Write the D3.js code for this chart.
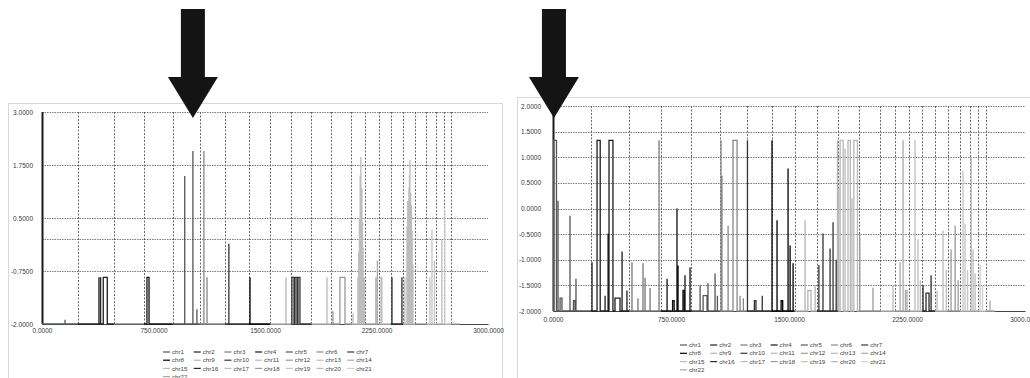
<!DOCTYPE html>
<html>
<head>
<meta charset="utf-8">
<script src="https://cdn.jsdelivr.net/npm/d3@7"></script>
<style>
  body { margin: 0; background: #fff; }
  svg { display: block; font-family: "Liberation Sans", Arial, sans-serif; }
</style>
</head>
<body>
<div id="chart"></div>
<script>
// chromosome names and where each one starts on the genome axis
const chromosomes = d3.range(1, 23).map(i => 'chr' + i);
const chrStarts = [0, 242, 484, 686, 880, 1060, 1232, 1390, 1535, 1678, 1812,
  1945, 2080, 2174, 2265, 2347, 2428, 2510, 2586, 2650, 2703, 2752];
const dataEnd = 2810;
const baseline = -2;

const xTicks = [0, 750, 1500, 2250, 3000];
const leftYTicks = [3, 1.75, 0.5, -0.75, -2];
const leftExtraGrid = [0];
const rightYTicks = [2, 1.5, 1, 0.5, 0, -0.5, -1, -1.5, -2];

// [chr, start, end, value]  (start == end for a single spike)
const leftSpikes = [
  [1, 155, 155, -1.9],
  [2, 383, 383, -0.9], [2, 394, 394, -0.9], [2, 412, 439, -0.9],
  [4, 706, 720, -0.9],
  [5, 960, 960, 1.49], [5, 1015, 1015, 2.08], [5, 1042, 1042, -1.65],
  [6, 1089, 1089, 2.08], [6, 1110, 1110, -0.9],
  [7, 1257, 1257, -0.11],
  [8, 1399, 1399, -0.9],
  [9, 1641, 1641, -0.9],
  [10, 1681, 1695, -0.9], [10, 1702, 1715, -0.9], [10, 1722, 1735, -0.9],
  [11, 1917, 1917, -0.9],
  [12, 1957, 1957, -1.7], [12, 2004, 2038, -0.9],
  [13, 2092, 2092, -1.75], [13, 2125, 2125, -0.9], [13, 2130, 2130, -0.3], [13, 2135, 2135, 0.5],
  [13, 2140, 2140, 1.5], [13, 2145, 2145, 1.94], [13, 2148, 2148, 0.9], [13, 2152, 2152, 1.2],
  [13, 2156, 2156, 0.4], [13, 2160, 2160, -0.2], [13, 2168, 2168, -0.9],
  [14, 2246, 2246, -0.9], [14, 2256, 2256, -0.5],
  [15, 2280, 2286, -0.9],
  [16, 2354, 2354, -0.9], [16, 2421, 2421, -0.9],
  [17, 2441, 2441, -0.9], [17, 2455, 2455, 0.3], [17, 2460, 2460, 0.9], [17, 2468, 2468, 1.2],
  [17, 2472, 2472, 1.5], [17, 2475, 2475, 1.87], [17, 2480, 2480, 1.1], [17, 2485, 2485, 0.8],
  [17, 2490, 2490, 0.2], [17, 2495, 2495, -0.6],
  [19, 2609, 2609, -0.9], [19, 2623, 2623, 0.22], [19, 2640, 2640, -0.5],
  [20, 2690, 2690, 0.0],
  [21, 2710, 2710, 0.69]
];

const rightSpikes = [
  [1, 4, 22, 1.33], [1, 32, 32, 0.15], [1, 45, 57, -1.75], [1, 108, 108, -0.14],
  [1, 130, 140, -1.8], [1, 146, 146, -1.37],
  [2, 248, 248, -1.05], [2, 280, 300, 1.33], [2, 331, 331, -1.7], [2, 350, 350, -0.49],
  [2, 356, 381, 1.33], [2, 394, 426, -1.75], [2, 439, 439, -0.84], [2, 470, 470, -1.6],
  [3, 502, 502, -1.05], [3, 540, 540, -1.75], [3, 572, 572, -1.07], [3, 585, 585, -1.35],
  [3, 617, 617, -1.55], [3, 674, 674, 1.33],
  [4, 725, 725, -1.37], [4, 760, 770, -1.8], [4, 788, 788, 0.0], [4, 795, 795, -1.11],
  [4, 826, 835, -1.6], [4, 839, 839, -1.3], [4, 871, 871, -1.15],
  [5, 935, 935, -1.5], [5, 954, 979, -1.7], [5, 985, 985, -1.46], [5, 1030, 1030, -1.27],
  [5, 1045, 1045, -1.7],
  [6, 1068, 1068, 1.33], [6, 1074, 1074, 0.64], [6, 1113, 1113, -0.33], [6, 1144, 1170, 1.33],
  [6, 1189, 1189, -1.7], [6, 1210, 1210, -1.75],
  [7, 1236, 1236, 1.33], [7, 1280, 1290, -1.8], [7, 1330, 1330, -1.7],
  [8, 1392, 1392, 1.33], [8, 1424, 1424, -0.23], [8, 1450, 1460, -1.8], [8, 1494, 1494, 0.78],
  [8, 1507, 1507, -0.72], [8, 1526, 1526, -1.07],
  [9, 1602, 1602, -0.23], [9, 1620, 1640, -1.6], [9, 1666, 1666, -1.5],
  [10, 1690, 1690, -1.1], [10, 1716, 1716, -0.49], [10, 1761, 1761, -0.78],
  [10, 1780, 1780, -0.27], [10, 1800, 1800, -1.0],
  [11, 1808, 1808, 1.33], [11, 1815, 1815, 0.4], [11, 1825, 1844, 1.33], [11, 1856, 1856, 1.17],
  [11, 1875, 1890, 1.33], [11, 1900, 1900, 0.2], [11, 1912, 1935, 1.33],
  [12, 1950, 1950, -0.5], [12, 2034, 2034, -1.55],
  [13, 2161, 2161, -1.5],
  [14, 2206, 2206, -1.05], [14, 2225, 2225, 1.33], [14, 2240, 2250, -1.6],
  [15, 2301, 2301, 1.33], [15, 2320, 2320, -0.6], [15, 2335, 2335, -1.4],
  [16, 2352, 2352, -1.5], [16, 2371, 2390, -1.65], [16, 2403, 2403, -1.3],
  [17, 2441, 2441, -1.6], [17, 2479, 2479, -0.43], [17, 2500, 2500, -1.2],
  [18, 2530, 2530, -0.8], [18, 2556, 2556, -0.33], [18, 2575, 2575, -1.4],
  [19, 2606, 2606, 0.74], [19, 2619, 2619, -0.3], [19, 2635, 2635, -1.2],
  [20, 2658, 2658, 1.0], [20, 2670, 2670, -0.8], [20, 2683, 2683, -1.27],
  [21, 2715, 2715, -1.1], [21, 2730, 2730, -1.5],
  [22, 2778, 2778, -1.8]
];

// grey shades the scanned Excel print gives each series
const chrColors = ['#555', '#1e1e1e', '#777', '#111', '#555', '#888', '#333', '#000',
  '#b4b4b4', '#333', '#b8b8b8', '#999', '#bdbdbd', '#aaa', '#bdbdbd', '#2a2a2a',
  '#bcbcbc', '#999', '#c4c4c4', '#bbb', '#cfcfcf', '#aaa'];

const arrowTargets = { left: 1015, right: 6 };

const W = 1030, H = 378;
const svg = d3.select('#chart').append('svg')
  .attr('width', W)
  .attr('height', H);

svg.append('rect').attr('width', W).attr('height', H).attr('fill', '#fff');

const fmt = v => v.toFixed(4);

function seriesPoints(spikes, chrIdx) {
  const start = chrStarts[chrIdx];
  const end = chrIdx < chrStarts.length - 1 ? chrStarts[chrIdx + 1] : dataEnd;
  const pts = [[start, baseline]];
  spikes.filter(d => d[0] === chrIdx + 1)
    .sort((a, b) => a[1] - b[1])
    .forEach(([c, a, b, v]) => {
      pts.push([a, baseline], [a, v]);
      if (b !== a) pts.push([b, v]);
      pts.push([b, baseline]);
    });
  pts.push([end, baseline]);
  return pts;
}

function drawPanel(p) {
  // outer chart frame
  svg.append('rect')
    .attr('x', p.frame[0] + 0.5).attr('y', p.frame[1] + 0.5)
    .attr('width', p.frame[2]).attr('height', p.frame[3])
    .attr('fill', 'none')
    .attr('stroke', '#b0b0b0')
    .attr('stroke-dasharray', '1,1');

  const x = d3.scaleLinear().domain([0, 3000]).range([p.left, p.right]);
  const y = d3.scaleLinear().domain(p.yDomain).range([p.bottom, p.top]);
  const g = svg.append('g');

  // horizontal gridlines
  g.append('g')
    .selectAll('line')
    .data(p.yTicks.concat(p.extraGrid || []))
    .enter()
    .append('line')
    .attr('x1', p.left).attr('x2', p.right)
    .attr('y1', d => Math.round(y(d)) + 0.5).attr('y2', d => Math.round(y(d)) + 0.5)
    .attr('stroke', '#6a6a6a')
    .attr('stroke-width', 0.9)
    .attr('stroke-dasharray', '1.5,1');

  // chromosome boundary markers
  g.append('g')
    .selectAll('line')
    .data(chrStarts)
    .enter()
    .append('line')
    .attr('x1', d => Math.round(x(d)) + 0.5).attr('x2', d => Math.round(x(d)) + 0.5)
    .attr('y1', y(p.yDomain[0])).attr('y2', y(p.yDomain[1]))
    .attr('stroke', (d, i) => i === 0 ? '#1a1a1a' : '#5a5a5a')
    .attr('stroke-width', (d, i) => i === 0 ? 2 : 0.9)
    .attr('stroke-dasharray', (d, i) => i === 0 ? null : '2,1.5');

  // y axis labels
  g.append('g')
    .attr('transform', `translate(${p.left},0)`)
    .call(d3.axisLeft(y).tickValues(p.yTicks).tickSize(0).tickPadding(p.yPad).tickFormat(fmt))
    .call(a => a.select('.domain').remove())
    .selectAll('text')
    .attr('font-size', 6.5)
    .attr('font-family', '"Liberation Sans", Arial, sans-serif')
    .attr('fill', '#3a3a3a');

  // x axis
  g.append('g')
    .attr('transform', `translate(0,${y(p.yDomain[0])})`)
    .call(d3.axisBottom(x).tickValues(xTicks).tickSize(0).tickPadding(p.xPad).tickFormat(fmt))
    .call(a => a.select('.domain').attr('stroke', '#444').attr('stroke-width', 1))
    .selectAll('text')
    .attr('font-size', 6.5)
    .attr('font-family', '"Liberation Sans", Arial, sans-serif')
    .attr('fill', '#3a3a3a');

  // series lines, light ones first so dark spikes stay on top
  const line = d3.line().x(d => x(d[0])).y(d => y(d[1]));
  const order = d3.range(chromosomes.length)
    .sort((a, b) => d3.hsl(chrColors[b]).l - d3.hsl(chrColors[a]).l);
  g.append('g')
    .selectAll('path')
    .data(order)
    .enter()
    .append('path')
    .attr('d', i => line(seriesPoints(p.spikes, i)))
    .attr('fill', 'none')
    .attr('stroke', i => chrColors[i])
    .attr('stroke-width', 1.3)
    .attr('stroke-linejoin', 'miter');

  // legend, 7 columns
  const lg = svg.append('g').attr('transform', `translate(${p.legend[0]},${p.legend[1]})`);
  const item = lg.selectAll('g')
    .data(chromosomes)
    .enter()
    .append('g')
    .attr('transform', (d, i) => `translate(${(i % 7) * p.legendDx},${Math.floor(i / 7) * p.legendDy})`);
  item.append('line')
    .attr('x1', 0).attr('x2', 7)
    .attr('stroke', (d, i) => chrColors[i])
    .attr('stroke-width', 1.2);
  item.append('text')
    .attr('x', 9).attr('dy', '0.35em')
    .attr('font-size', 6.2)
    .attr('fill', '#444')
    .text(d => d);

  // big black arrow pointing at the highlighted spike
  const ax = x(p.arrow);
  const arrowPath = d3.path();
  arrowPath.moveTo(ax - 12, 9);
  arrowPath.lineTo(ax + 12, 9);
  arrowPath.lineTo(ax + 12, 77);
  arrowPath.lineTo(ax + 25, 77);
  arrowPath.lineTo(ax, 118);
  arrowPath.lineTo(ax - 25, 77);
  arrowPath.lineTo(ax - 12, 77);
  arrowPath.closePath();
  svg.append('path')
    .attr('d', arrowPath.toString())
    .attr('fill', '#141414');
}

drawPanel({
  frame: [8, 103, 494, 290],
  left: 42, right: 488, top: 112, bottom: 324,
  yDomain: [-2, 3], yTicks: leftYTicks, extraGrid: leftExtraGrid,
  yPad: 9, xPad: 4,
  spikes: leftSpikes,
  legend: [163, 352], legendDx: 30.7, legendDy: 8.2,
  arrow: arrowTargets.left
});

drawPanel({
  frame: [517, 97, 520, 300],
  left: 553, right: 1025, top: 106, bottom: 311,
  yDomain: [-2, 2], yTicks: rightYTicks,
  yPad: 12, xPad: 6,
  spikes: rightSpikes,
  legend: [680, 345], legendDx: 30.2, legendDy: 8.3,
  arrow: arrowTargets.right
});
</script>
</body>
</html>
